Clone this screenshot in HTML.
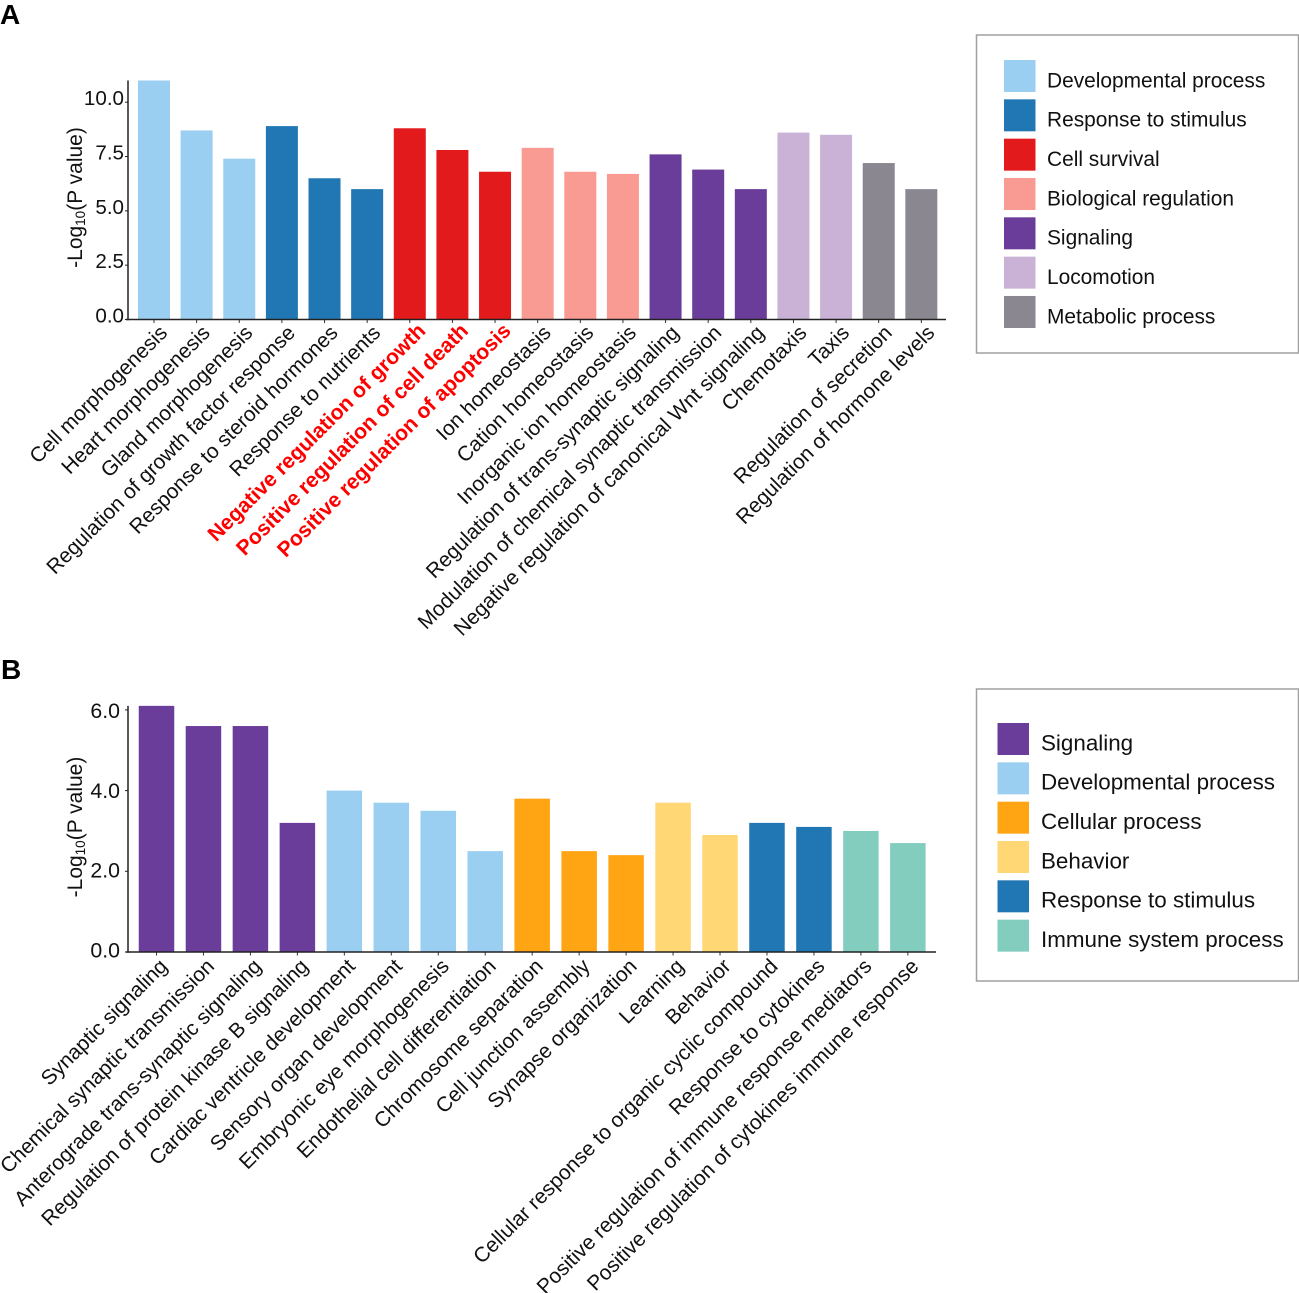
<!DOCTYPE html>
<html lang="en">
<head>
<meta charset="utf-8">
<title>Enrichment bar charts</title>
<style>
html,body{margin:0;padding:0;background:#fff}
svg{display:block;font-family:"Liberation Sans",Arial,sans-serif}
</style>
</head>
<body>
<svg id="root" xmlns="http://www.w3.org/2000/svg" width="1299" height="1293" viewBox="0 0 1299 1293">
<text x="0" y="24" font-size="28" font-weight="bold" fill="#000">A</text>
<text x="1" y="679" font-size="28" font-weight="bold" fill="#000">B</text>
<rect x="976.5" y="35" width="322" height="318" fill="#fff" stroke="#a0a0a0" stroke-width="1.5"/>
<rect x="976.5" y="689" width="322" height="292" fill="#fff" stroke="#a0a0a0" stroke-width="1.5"/>
<g id="chartA"></g>
<g id="chartB"></g>
</svg>
<script>
const COLORS = {
  'Developmental process': '#9BCFF2',
  'Response to stimulus': '#2077B4',
  'Cell survival': '#E31A1C',
  'Biological regulation': '#FA9B93',
  'Signaling': '#6A3D9A',
  'Locomotion': '#CAB2D6',
  'Metabolic process': '#8A8791',
  'Cellular process': '#FFA412',
  'Behavior': '#FFD774',
  'Immune system process': '#83CDBF'
};

const categoriesA = ['Cell morphogenesis','Heart morphogenesis','Gland morphogenesis','Regulation of growth factor response','Response to steroid hormones','Response to nutrients','Negative regulation of growth','Positive regulation of cell death','Positive regulation of apoptosis','Ion homeostasis','Cation homeostasis','Inorganic ion homeostasis','Regulation of trans-synaptic signaling','Modulation of chemical synaptic transmission','Negative regulation of canonical Wnt signaling','Chemotaxis','Taxis','Regulation of secretion','Regulation of hormone levels'];
const valuesA = [11.0,8.7,7.4,8.9,6.5,6.0,8.8,7.8,6.8,7.9,6.8,6.7,7.6,6.9,6.0,8.6,8.5,7.2,6.0];
const groupsA = ['Developmental process','Developmental process','Developmental process','Response to stimulus','Response to stimulus','Response to stimulus','Cell survival','Cell survival','Cell survival','Biological regulation','Biological regulation','Biological regulation','Signaling','Signaling','Signaling','Locomotion','Locomotion','Metabolic process','Metabolic process'];
const ticksA = [0,2.5,5,7.5,10];
const highlightedA = ['Negative regulation of growth','Positive regulation of cell death','Positive regulation of apoptosis'];
const legendA = ['Developmental process','Response to stimulus','Cell survival','Biological regulation','Signaling','Locomotion','Metabolic process'];

const categoriesB = ['Synaptic signaling','Chemical synaptic transmission','Anterograde trans-synaptic signaling','Regulation of protein kinase B signaling','Cardiac ventricle development','Sensory organ development','Embryonic eye morphogenesis','Endothelial cell differentiation','Chromosome separation','Cell junction assembly','Synapse organization','Learning','Behavior','Cellular response to organic cyclic compound','Response to cytokines','Positive regulation of immune response mediators','Positive regulation of cytokines immune response'];
const valuesB = [6.1,5.6,5.6,3.2,4.0,3.7,3.5,2.5,3.8,2.5,2.4,3.7,2.9,3.2,3.1,3.0,2.7];
const groupsB = ['Signaling','Signaling','Signaling','Signaling','Developmental process','Developmental process','Developmental process','Developmental process','Cellular process','Cellular process','Cellular process','Behavior','Behavior','Response to stimulus','Response to stimulus','Immune system process','Immune system process'];
const ticksB = [0,2,4,6];
const highlightedB = [];
const legendB = ['Signaling','Developmental process','Cellular process','Behavior','Response to stimulus','Immune system process'];

const NS = 'http://www.w3.org/2000/svg';
function mk(parent, tag, attrs, text) {
  const el = document.createElementNS(NS, tag);
  for (const k in attrs) el.setAttribute(k, attrs[k]);
  if (text !== undefined) el.textContent = text;
  parent.appendChild(el);
  return el;
}

function drawChart(g, cfg) {
  const y = v => cfg.baseY - v * cfg.pxPerUnit;
  const x = i => cfg.firstX + i * cfg.step;
  const labelY = v => cfg.tickLabelBase - v * cfg.tickLabelPerUnit;

  cfg.values.forEach((v, i) => {
    const bar = mk(g, 'rect', {x: x(i) - cfg.barW / 2, y: y(v), width: cfg.barW, height: cfg.baseY - y(v), fill: COLORS[cfg.groups[i]]});
    
    
    const tick = mk(g, 'line', {x1: x(i), x2: x(i), y1: cfg.baseY, y2: cfg.baseY + 3.5, stroke: '#333', 'stroke-width': 1});
    
    
    const hi = cfg.highlighted.includes(cfg.categories[i]);
    const ax = x(i) + (hi ? cfg.boldDx : cfg.labelDx), ay = cfg.baseY + (hi ? cfg.boldDy : cfg.labelDy);
    const lab = mk(g, 'text', {x: ax, y: ay, 'text-anchor': 'end', transform: `rotate(-45 ${ax} ${ay})`, 'font-size': hi ? cfg.boldSize : cfg.labelSize, fill: hi ? '#FF0000' : '#111', 'font-weight': hi ? 'bold' : 'normal'}, cfg.categories[i]);
    
    
  });

  const yAxis = mk(g, 'line', {x1: cfg.axisX, x2: cfg.axisX, y1: y(cfg.axisTop), y2: cfg.baseY + 0.8, stroke: '#222', 'stroke-width': 1.5});
  
  
  const xAxis = mk(g, 'line', {x1: cfg.axisX - 2, x2: cfg.axisEnd, y1: cfg.baseY, y2: cfg.baseY, stroke: '#222', 'stroke-width': 1.5});
  
  

  cfg.ticks.forEach(t => {
    const tk = mk(g, 'line', {x1: cfg.axisX - 3, x2: cfg.axisX, y1: y(t), y2: y(t), stroke: '#222', 'stroke-width': 1});
    
    
    const tl = mk(g, 'text', {x: cfg.tickLabelX, y: labelY(t), 'text-anchor': 'end', 'font-size': cfg.tickSize, fill: '#111'}, t.toFixed(1));
    
    
  });

  const title = mk(g, 'text', {x: 0, y: 0, 'text-anchor': 'middle', 'font-size': cfg.titleSize, fill: '#111', transform: `translate(${cfg.titleX} ${cfg.titleY}) rotate(-90)`});
  
  
  mk(title, 'tspan', {}, '-Log');
  mk(title, 'tspan', {'font-size': 13.5, dy: 3}, '10');
  mk(title, 'tspan', {dy: -3}, '(P value)');

  cfg.legend.forEach((name, i) => {
    const top = cfg.legendY + i * cfg.legendStep;
    const sw = mk(g, 'rect', {x: cfg.legendX, y: top, width: cfg.swW, height: 32, fill: COLORS[name]});
    
    
    const lt = mk(g, 'text', {x: cfg.legendTextX, y: top + cfg.legendTextDy, 'font-size': cfg.legendSize, fill: '#111'}, name);
    
    
  });
}

drawChart(document.getElementById('chartA'), {
  categories: categoriesA, values: valuesA, groups: groupsA, ticks: ticksA, highlighted: highlightedA, legend: legendA,
  baseY: 319.5, pxPerUnit: 21.73, firstX: 154, step: 42.63, barW: 32, axisX: 128, axisEnd: 946, axisTop: 11,
  labelDx: 14.5, boldDx: 17, labelDy: 14.5, boldDy: 12.5, labelSize: 20.9, boldSize: 21.1,
  tickLabelX: 124, tickLabelBase: 322.5, tickLabelPerUnit: 21.75, tickSize: 20.6,
  titleX: 82, titleY: 197.5, titleSize: 21,
  legendX: 1004, legendY: 60, legendStep: 39.33, swW: 31.5, legendTextX: 1047, legendTextDy: 27.3, legendSize: 20.9
});
drawChart(document.getElementById('chartB'), {
  categories: categoriesB, values: valuesB, groups: groupsB, ticks: ticksB, highlighted: highlightedB, legend: legendB,
  baseY: 952, pxPerUnit: 40.35, firstX: 156.5, step: 46.96, barW: 35.5, axisX: 128, axisEnd: 936, axisTop: 6.1,
  labelDx: 12, boldDx: 12, labelDy: 15.5, boldDy: 15.5, labelSize: 20.9, boldSize: 20.9,
  tickLabelX: 120, tickLabelBase: 957.5, tickLabelPerUnit: 39.9, tickSize: 21.3,
  titleX: 82, titleY: 827, titleSize: 21,
  legendX: 997.5, legendY: 723, legendStep: 39.33, swW: 31.5, legendTextX: 1041, legendTextDy: 27.3, legendSize: 22.4
});
</script>
</body>
</html>
